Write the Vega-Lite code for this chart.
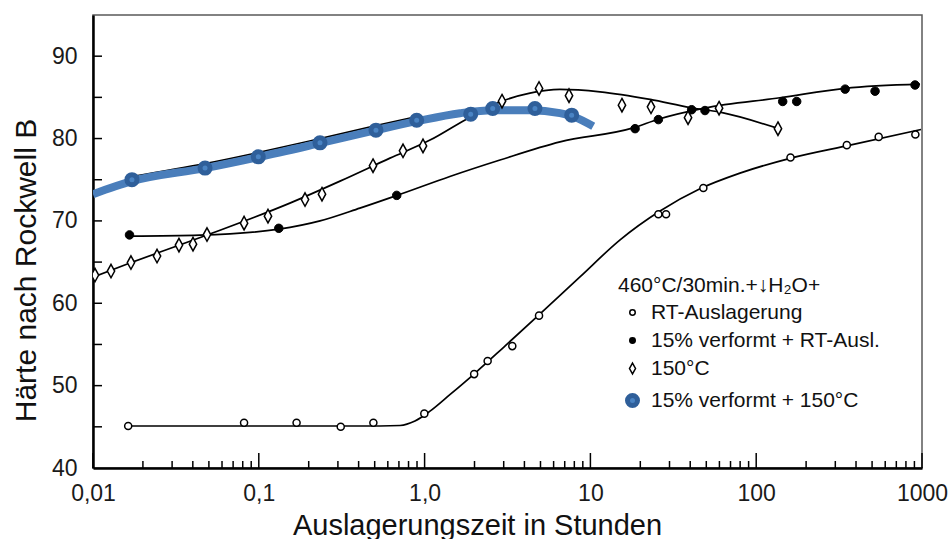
{
  "$schema": "https://vega.github.io/schema/vega-lite/v6.json",
  "width": 829,
  "height": 453,
  "autosize": {"type": "none"},
  "padding": {"left": 93, "top": 15, "right": 28, "bottom": 71},
  "background": "white",
  "config": {
    "font": "Liberation Sans",
    "view": {"stroke": "#5a5a5a", "strokeWidth": 1.5},
    "axis": {"grid": false},
    "legend": {
      "orient": "none",
      "legendX": 525,
      "legendY": 260,
      "padding": 0,
      "titleFont": "Liberation Sans",
      "titleFontSize": 21,
      "titleFontWeight": "normal",
      "titleColor": "#111111",
      "titlePadding": 6,
      "titleLimit": 500,
      "labelFont": "Liberation Sans",
      "labelFontSize": 21,
      "labelColor": "#111111",
      "labelLimit": 500,
      "labelOffset": 8,
      "symbolOffset": 4,
      "rowPadding": 6,
      "symbolOpacity": 1
    }
  },
  "datasets": {
    "striche_x": [
      {"t": 0.01, "stufe": "Dekade"}, {"t": 0.1, "stufe": "Dekade"}, {"t": 1, "stufe": "Dekade"},
      {"t": 10, "stufe": "Dekade"}, {"t": 100, "stufe": "Dekade"}, {"t": 1000, "stufe": "Dekade"},
      {"t": 0.02, "stufe": "Zwischen"}, {"t": 0.03, "stufe": "Zwischen"}, {"t": 0.04, "stufe": "Zwischen"},
      {"t": 0.05, "stufe": "Zwischen"}, {"t": 0.06, "stufe": "Zwischen"}, {"t": 0.07, "stufe": "Zwischen"},
      {"t": 0.08, "stufe": "Zwischen"}, {"t": 0.09, "stufe": "Zwischen"},
      {"t": 0.2, "stufe": "Zwischen"}, {"t": 0.3, "stufe": "Zwischen"}, {"t": 0.4, "stufe": "Zwischen"},
      {"t": 0.5, "stufe": "Zwischen"}, {"t": 0.6, "stufe": "Zwischen"}, {"t": 0.7, "stufe": "Zwischen"},
      {"t": 0.8, "stufe": "Zwischen"}, {"t": 0.9, "stufe": "Zwischen"},
      {"t": 2, "stufe": "Zwischen"}, {"t": 3, "stufe": "Zwischen"}, {"t": 4, "stufe": "Zwischen"},
      {"t": 5, "stufe": "Zwischen"}, {"t": 6, "stufe": "Zwischen"}, {"t": 7, "stufe": "Zwischen"},
      {"t": 8, "stufe": "Zwischen"}, {"t": 9, "stufe": "Zwischen"},
      {"t": 20, "stufe": "Zwischen"}, {"t": 30, "stufe": "Zwischen"}, {"t": 40, "stufe": "Zwischen"},
      {"t": 50, "stufe": "Zwischen"}, {"t": 60, "stufe": "Zwischen"}, {"t": 70, "stufe": "Zwischen"},
      {"t": 80, "stufe": "Zwischen"}, {"t": 90, "stufe": "Zwischen"},
      {"t": 200, "stufe": "Zwischen"}, {"t": 300, "stufe": "Zwischen"}, {"t": 400, "stufe": "Zwischen"},
      {"t": 500, "stufe": "Zwischen"}, {"t": 600, "stufe": "Zwischen"}, {"t": 700, "stufe": "Zwischen"},
      {"t": 800, "stufe": "Zwischen"}, {"t": 900, "stufe": "Zwischen"}
    ],
    "striche_y": [
      {"hrb": 45}, {"hrb": 50}, {"hrb": 55}, {"hrb": 60}, {"hrb": 65},
      {"hrb": 70}, {"hrb": 75}, {"hrb": 80}, {"hrb": 85}, {"hrb": 90}
    ],
    "punkte": [
      {"t": 0.0163, "hrb": 45.1, "serie": "RT-Auslagerung"},
      {"t": 0.0815, "hrb": 45.5, "serie": "RT-Auslagerung"},
      {"t": 0.169, "hrb": 45.5, "serie": "RT-Auslagerung"},
      {"t": 0.312, "hrb": 45.0, "serie": "RT-Auslagerung"},
      {"t": 0.491, "hrb": 45.5, "serie": "RT-Auslagerung"},
      {"t": 0.996, "hrb": 46.6, "serie": "RT-Auslagerung"},
      {"t": 1.99, "hrb": 51.4, "serie": "RT-Auslagerung"},
      {"t": 2.40, "hrb": 53.0, "serie": "RT-Auslagerung"},
      {"t": 3.38, "hrb": 54.8, "serie": "RT-Auslagerung"},
      {"t": 4.90, "hrb": 58.5, "serie": "RT-Auslagerung"},
      {"t": 25.7, "hrb": 70.8, "serie": "RT-Auslagerung"},
      {"t": 28.6, "hrb": 70.8, "serie": "RT-Auslagerung"},
      {"t": 48.0, "hrb": 74.0, "serie": "RT-Auslagerung"},
      {"t": 161, "hrb": 77.7, "serie": "RT-Auslagerung"},
      {"t": 352, "hrb": 79.2, "serie": "RT-Auslagerung"},
      {"t": 548, "hrb": 80.2, "serie": "RT-Auslagerung"},
      {"t": 912, "hrb": 80.5, "serie": "RT-Auslagerung"},

      {"t": 0.0166, "hrb": 68.3, "serie": "15% verformt + RT-Ausl."},
      {"t": 0.132, "hrb": 69.1, "serie": "15% verformt + RT-Ausl."},
      {"t": 0.679, "hrb": 73.1, "serie": "15% verformt + RT-Ausl."},
      {"t": 18.6, "hrb": 81.2, "serie": "15% verformt + RT-Ausl."},
      {"t": 25.7, "hrb": 82.3, "serie": "15% verformt + RT-Ausl."},
      {"t": 40.8, "hrb": 83.5, "serie": "15% verformt + RT-Ausl."},
      {"t": 49.1, "hrb": 83.4, "serie": "15% verformt + RT-Ausl."},
      {"t": 144.5, "hrb": 84.5, "serie": "15% verformt + RT-Ausl."},
      {"t": 175.5, "hrb": 84.5, "serie": "15% verformt + RT-Ausl."},
      {"t": 344, "hrb": 86.0, "serie": "15% verformt + RT-Ausl."},
      {"t": 521, "hrb": 85.75, "serie": "15% verformt + RT-Ausl."},
      {"t": 908, "hrb": 86.5, "serie": "15% verformt + RT-Ausl."},

      {"t": 0.01028, "hrb": 63.42, "serie": "150°C"},
      {"t": 0.01284, "hrb": 63.91, "serie": "150°C"},
      {"t": 0.01694, "hrb": 64.94, "serie": "150°C"},
      {"t": 0.02433, "hrb": 65.73, "serie": "150°C"},
      {"t": 0.0330, "hrb": 67.06, "serie": "150°C"},
      {"t": 0.0401, "hrb": 67.18, "serie": "150°C"},
      {"t": 0.0487, "hrb": 68.34, "serie": "150°C"},
      {"t": 0.0815, "hrb": 69.73, "serie": "150°C"},
      {"t": 0.1136, "hrb": 70.58, "serie": "150°C"},
      {"t": 0.190, "hrb": 72.59, "serie": "150°C"},
      {"t": 0.2405, "hrb": 73.25, "serie": "150°C"},
      {"t": 0.4885, "hrb": 76.71, "serie": "150°C"},
      {"t": 0.741, "hrb": 78.51, "serie": "150°C"},
      {"t": 0.978, "hrb": 79.11, "serie": "150°C"},
      {"t": 2.93, "hrb": 84.54, "serie": "150°C"},
      {"t": 4.90, "hrb": 86.08, "serie": "150°C"},
      {"t": 7.43, "hrb": 85.21, "serie": "150°C"},
      {"t": 15.5, "hrb": 84.05, "serie": "150°C"},
      {"t": 23.2, "hrb": 83.85, "serie": "150°C"},
      {"t": 38.8, "hrb": 82.54, "serie": "150°C"},
      {"t": 59.7, "hrb": 83.69, "serie": "150°C"},
      {"t": 135.3, "hrb": 81.2, "serie": "150°C"},

      {"t": 0.01718, "hrb": 75.01, "serie": "15% verformt + 150°C"},
      {"t": 0.0474, "hrb": 76.41, "serie": "15% verformt + 150°C"},
      {"t": 0.0993, "hrb": 77.78, "serie": "15% verformt + 150°C"},
      {"t": 0.2339, "hrb": 79.48, "serie": "15% verformt + 150°C"},
      {"t": 0.509, "hrb": 81.02, "serie": "15% verformt + 150°C"},
      {"t": 0.896, "hrb": 82.23, "serie": "15% verformt + 150°C"},
      {"t": 1.897, "hrb": 82.96, "serie": "15% verformt + 150°C"},
      {"t": 2.575, "hrb": 83.65, "serie": "15% verformt + 150°C"},
      {"t": 4.63, "hrb": 83.65, "serie": "15% verformt + 150°C"},
      {"t": 7.71, "hrb": 82.84, "serie": "15% verformt + 150°C"}
    ],
    "kurven": [
      {"t": 0.0163, "hrb": 45.1, "serie": "RT-Auslagerung"},
      {"t": 0.0885, "hrb": 45.1, "serie": "RT-Auslagerung"},
      {"t": 0.538, "hrb": 45.1, "serie": "RT-Auslagerung"},
      {"t": 0.711, "hrb": 45.16, "serie": "RT-Auslagerung"},
      {"t": 0.875, "hrb": 45.7, "serie": "RT-Auslagerung"},
      {"t": 1.078, "hrb": 46.9, "serie": "RT-Auslagerung"},
      {"t": 1.42, "hrb": 48.9, "serie": "RT-Auslagerung"},
      {"t": 2.01, "hrb": 51.5, "serie": "RT-Auslagerung"},
      {"t": 3.05, "hrb": 54.8, "serie": "RT-Auslagerung"},
      {"t": 4.97, "hrb": 58.7, "serie": "RT-Auslagerung"},
      {"t": 8.65, "hrb": 63.2, "serie": "RT-Auslagerung"},
      {"t": 15.1, "hrb": 67.7, "serie": "RT-Auslagerung"},
      {"t": 26.3, "hrb": 71.2, "serie": "RT-Auslagerung"},
      {"t": 45.8, "hrb": 73.9, "serie": "RT-Auslagerung"},
      {"t": 79.8, "hrb": 75.8, "serie": "RT-Auslagerung"},
      {"t": 160, "hrb": 77.6, "serie": "RT-Auslagerung"},
      {"t": 368, "hrb": 79.2, "serie": "RT-Auslagerung"},
      {"t": 986, "hrb": 81.1, "serie": "RT-Auslagerung"},

      {"t": 0.0167, "hrb": 68.16, "serie": "15% verformt + RT-Ausl."},
      {"t": 0.0442, "hrb": 68.28, "serie": "15% verformt + RT-Ausl."},
      {"t": 0.1324, "hrb": 69.0, "serie": "15% verformt + RT-Ausl."},
      {"t": 0.234, "hrb": 70.0, "serie": "15% verformt + RT-Ausl."},
      {"t": 0.407, "hrb": 71.55, "serie": "15% verformt + RT-Ausl."},
      {"t": 0.682, "hrb": 73.1, "serie": "15% verformt + RT-Ausl."},
      {"t": 1.42, "hrb": 75.4, "serie": "15% verformt + RT-Ausl."},
      {"t": 2.85, "hrb": 77.4, "serie": "15% verformt + RT-Ausl."},
      {"t": 6.56, "hrb": 79.6, "serie": "15% verformt + RT-Ausl."},
      {"t": 18.1, "hrb": 81.3, "serie": "15% verformt + RT-Ausl."},
      {"t": 25.7, "hrb": 82.35, "serie": "15% verformt + RT-Ausl."},
      {"t": 48.7, "hrb": 83.7, "serie": "15% verformt + RT-Ausl."},
      {"t": 139, "hrb": 84.95, "serie": "15% verformt + RT-Ausl."},
      {"t": 343, "hrb": 86.1, "serie": "15% verformt + RT-Ausl."},
      {"t": 973, "hrb": 86.6, "serie": "15% verformt + RT-Ausl."},

      {"t": 0.01, "hrb": 63.18, "serie": "150°C"},
      {"t": 0.0167, "hrb": 64.88, "serie": "150°C"},
      {"t": 0.0487, "hrb": 68.28, "serie": "150°C"},
      {"t": 0.154, "hrb": 72.16, "serie": "150°C"},
      {"t": 0.309, "hrb": 74.83, "serie": "150°C"},
      {"t": 0.618, "hrb": 77.62, "serie": "150°C"},
      {"t": 1.078, "hrb": 79.81, "serie": "150°C"},
      {"t": 1.878, "hrb": 82.6, "serie": "150°C"},
      {"t": 2.93, "hrb": 84.54, "serie": "150°C"},
      {"t": 4.32, "hrb": 85.51, "serie": "150°C"},
      {"t": 6.55, "hrb": 85.96, "serie": "150°C"},
      {"t": 11.43, "hrb": 85.67, "serie": "150°C"},
      {"t": 22.9, "hrb": 84.75, "serie": "150°C"},
      {"t": 39.9, "hrb": 83.77, "serie": "150°C"},
      {"t": 60.5, "hrb": 83.2, "serie": "150°C"},
      {"t": 135.3, "hrb": 81.23, "serie": "150°C"},

      {"t": 0.01718, "hrb": 75.38, "serie": "Ausgleich 15% + 150°C"},
      {"t": 0.0474, "hrb": 76.95, "serie": "Ausgleich 15% + 150°C"},
      {"t": 0.099, "hrb": 78.29, "serie": "Ausgleich 15% + 150°C"},
      {"t": 0.2339, "hrb": 79.99, "serie": "Ausgleich 15% + 150°C"},
      {"t": 0.509, "hrb": 81.57, "serie": "Ausgleich 15% + 150°C"},
      {"t": 0.9, "hrb": 82.66, "serie": "Ausgleich 15% + 150°C"}
    ],
    "blau": [
      {"t": 0.01, "hrb": 73.25},
      {"t": 0.01718, "hrb": 74.83},
      {"t": 0.0474, "hrb": 76.41},
      {"t": 0.099, "hrb": 77.74},
      {"t": 0.2339, "hrb": 79.44},
      {"t": 0.509, "hrb": 81.02},
      {"t": 0.9, "hrb": 82.11},
      {"t": 1.635, "hrb": 83.08},
      {"t": 2.585, "hrb": 83.45},
      {"t": 4.32, "hrb": 83.45},
      {"t": 6.55, "hrb": 83.08},
      {"t": 8.07, "hrb": 82.6},
      {"t": 10.4, "hrb": 81.5}
    ]
  },
  "layer": [
    {
      "data": {"name": "kurven"},
      "mark": {"type": "line", "interpolate": "monotone", "color": "black", "strokeWidth": 1.7, "clip": true},
      "encoding": {
        "x": {
          "field": "t", "type": "quantitative",
          "scale": {"type": "log", "domain": [0.01, 1000], "nice": false},
          "axis": {
            "orient": "bottom",
            "values": [0.01, 0.1, 1, 10, 100, 1000],
            "ticks": false,
            "domainColor": "black",
            "domainWidth": 2.5,
            "labelFontSize": 23,
            "labelColor": "#1a1a1a",
            "labelFlush": false,
            "labelOverlap": false,
            "labelBaseline": "alphabetic",
            "labelPadding": 32,
            "labelExpr": "datum.value < 0.05 ? '0,01' : datum.value < 0.5 ? '0,1' : datum.value < 5 ? '1,0' : format(datum.value, 'd')",
            "title": "Auslagerungszeit in Stunden",
            "titleFontSize": 29,
            "titleFontWeight": "normal",
            "titleColor": "#111111",
            "titleX": 384,
            "titleY": 66,
            "titleAlign": "center",
            "titleBaseline": "alphabetic"
          }
        },
        "y": {
          "field": "hrb", "type": "quantitative",
          "scale": {"domain": [40, 95], "nice": false, "zero": false},
          "axis": {
            "orient": "left",
            "values": [40, 50, 60, 70, 80, 90],
            "ticks": false,
            "domainColor": "black",
            "domainWidth": 2.5,
            "labelFontSize": 23,
            "labelColor": "#1a1a1a",
            "labelFlush": false,
            "labelOverlap": false,
            "labelPadding": 16,
            "labelBaseline": "middle",
            "title": "Härte nach Rockwell B",
            "titleFontSize": 30,
            "titleFontWeight": "normal",
            "titleColor": "#111111",
            "titleAngle": 270,
            "titleX": -58,
            "titleY": 255,
            "titleAlign": "center",
            "titleBaseline": "alphabetic"
          }
        },
        "detail": {"field": "serie", "type": "nominal"}
      }
    },
    {
      "data": {"name": "striche_x"},
      "transform": [{"filter": "datum.stufe === 'Dekade'"}],
      "mark": {"type": "rule", "color": "black", "strokeWidth": 1.5},
      "encoding": {
        "x": {"field": "t", "type": "quantitative"},
        "y": {"datum": 40, "type": "quantitative"},
        "y2": {"datum": 41.82}
      }
    },
    {
      "data": {"name": "striche_x"},
      "transform": [{"filter": "datum.stufe === 'Zwischen'"}],
      "mark": {"type": "rule", "color": "black", "strokeWidth": 1.5},
      "encoding": {
        "x": {"field": "t", "type": "quantitative"},
        "y": {"datum": 40, "type": "quantitative"},
        "y2": {"datum": 40.85}
      }
    },
    {
      "data": {"name": "striche_y"},
      "mark": {"type": "rule", "color": "black", "strokeWidth": 1.5},
      "encoding": {
        "y": {"field": "hrb", "type": "quantitative"},
        "x": {"datum": 0.01, "type": "quantitative"},
        "x2": {"datum": 0.01133}
      }
    },
    {
      "data": {"name": "blau"},
      "mark": {"type": "line", "interpolate": "monotone", "color": "#4a7ebb", "strokeWidth": 8, "clip": true},
      "encoding": {
        "x": {"field": "t", "type": "quantitative"},
        "y": {"field": "hrb", "type": "quantitative"}
      }
    },
    {
      "data": {"name": "punkte"},
      "mark": {"type": "point", "filled": false, "opacity": 1, "clip": true},
      "encoding": {
        "x": {"field": "t", "type": "quantitative"},
        "y": {"field": "hrb", "type": "quantitative"},
        "shape": {
          "field": "serie", "type": "nominal",
          "scale": {
            "domain": ["RT-Auslagerung", "15% verformt + RT-Ausl.", "150°C", "15% verformt + 150°C"],
            "range": ["circle", "circle", "M0,-1L0.55,0L0,1L-0.55,0Z", "circle"]
          },
          "legend": {
            "title": "460°C/30min.+↓H₂O+",
            "encode": {
              "symbols": {
                "update": {
                  "size": {"signal": "datum.value === '15% verformt + 150°C' ? 100 : datum.value === '150°C' ? 120 : 30"},
                  "strokeWidth": {"signal": "datum.value === '15% verformt + 150°C' ? 5 : 1.5"}
                }
              }
            }
          }
        },
        "fill": {
          "field": "serie", "type": "nominal",
          "scale": {
            "domain": ["RT-Auslagerung", "15% verformt + RT-Ausl.", "150°C", "15% verformt + 150°C"],
            "range": ["white", "black", "white", "#4a84c4"]
          },
          "legend": {
            "title": "460°C/30min.+↓H₂O+",
            "encode": {
              "symbols": {
                "update": {
                  "size": {"signal": "datum.value === '15% verformt + 150°C' ? 100 : datum.value === '150°C' ? 120 : 30"},
                  "strokeWidth": {"signal": "datum.value === '15% verformt + 150°C' ? 5 : 1.5"}
                }
              }
            }
          }
        },
        "stroke": {
          "field": "serie", "type": "nominal",
          "scale": {
            "domain": ["RT-Auslagerung", "15% verformt + RT-Ausl.", "150°C", "15% verformt + 150°C"],
            "range": ["black", "black", "black", "#2f5f9a"]
          },
          "legend": {
            "title": "460°C/30min.+↓H₂O+",
            "encode": {
              "symbols": {
                "update": {
                  "size": {"signal": "datum.value === '15% verformt + 150°C' ? 100 : datum.value === '150°C' ? 120 : 30"},
                  "strokeWidth": {"signal": "datum.value === '15% verformt + 150°C' ? 5 : 1.5"}
                }
              }
            }
          }
        },
        "size": {
          "condition": [
            {"test": "datum.serie === '15% verformt + 150°C'", "value": 100},
            {"test": "datum.serie === '150°C'", "value": 180},
            {"test": "datum.serie === '15% verformt + RT-Ausl.'", "value": 72}
          ],
          "value": 50
        },
        "strokeWidth": {
          "condition": [
            {"test": "datum.serie === '15% verformt + 150°C'", "value": 5},
            {"test": "datum.serie === '15% verformt + RT-Ausl.'", "value": 1}
          ],
          "value": 1.5
        }
      }
    }
  ]
}
